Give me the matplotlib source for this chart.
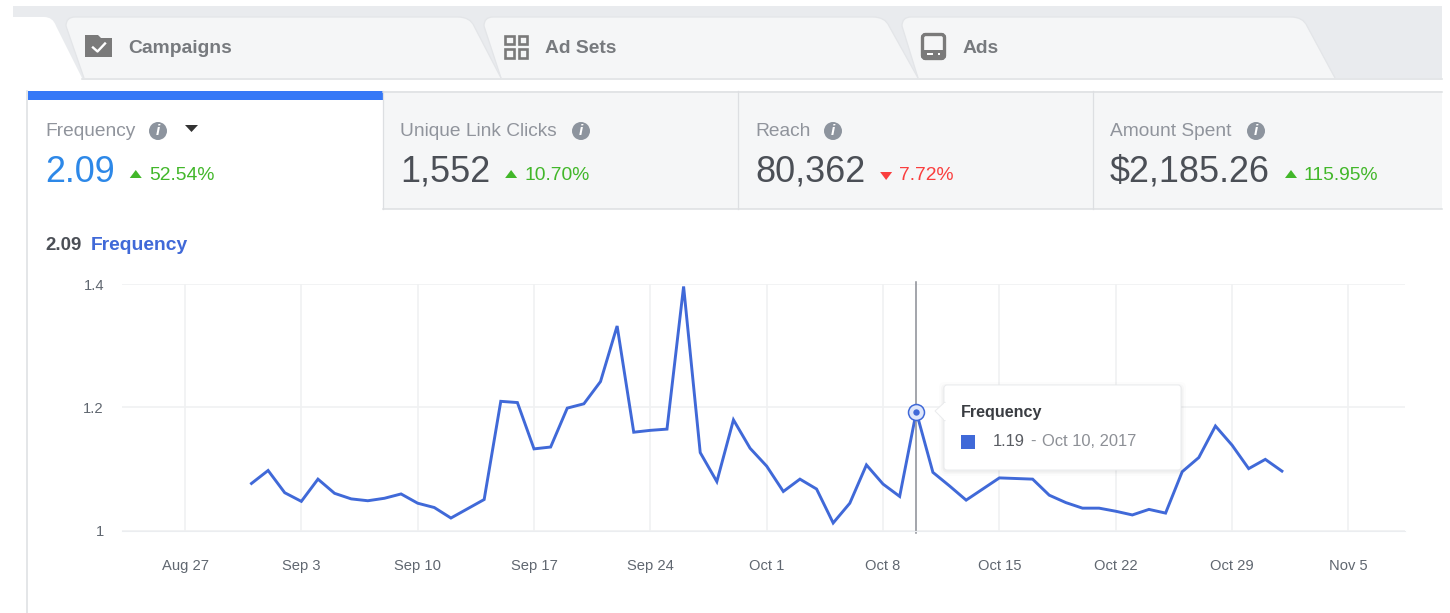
# -*- coding: utf-8 -*-
import matplotlib
matplotlib.use('Agg')
import matplotlib.pyplot as plt
import matplotlib.dates as mdates
import pandas as pd
from matplotlib.patches import FancyBboxPatch, PathPatch, Polygon, Rectangle, Circle
from matplotlib.path import Path

plt.rcParams['font.family'] = ['Liberation Sans', 'DejaVu Sans']

W, H = 1450, 613
PAGE_R = 1442

# chart data
start_date = '2017-08-31'
frequency = [1.077, 1.098, 1.062, 1.048, 1.084, 1.061, 1.052, 1.049, 1.053, 1.060,
             1.045, 1.038, 1.021, 1.036, 1.051, 1.210, 1.208, 1.133, 1.136, 1.199,
             1.206, 1.242, 1.332, 1.160, 1.163, 1.165, 1.396, 1.127, 1.080, 1.180,
             1.134, 1.105, 1.064, 1.084, 1.068, 1.013, 1.045, 1.107, 1.076, 1.056,
             1.193, 1.095, 1.073, 1.050, 1.068, 1.086, 1.085, 1.084, 1.058, 1.046,
             1.037, 1.037, 1.032, 1.026, 1.035, 1.029, 1.096, 1.119, 1.170, 1.139,
             1.101, 1.116, 1.097]
x_ticks = ['2017-08-27', '2017-09-03', '2017-09-10', '2017-09-17', '2017-09-24', '2017-10-01',
           '2017-10-08', '2017-10-15', '2017-10-22', '2017-10-29', '2017-11-05']
x_labels = ['Aug 27', 'Sep 3', 'Sep 10', 'Sep 17', 'Sep 24', 'Oct 1',
            'Oct 8', 'Oct 15', 'Oct 22', 'Oct 29', 'Nov 5']
y_ticks = [1, 1.2, 1.4]
y_labels = ['1', '1.2', '1.4']
hover_date = '2017-10-10'
hover_value = 1.193

# metric cards
metric_names = ['Frequency', 'Unique Link Clicks', 'Reach', 'Amount Spent']
metric_values = ['2.09', '1,552', '80,362', '$2,185.26']
metric_changes = ['52.54%', '10.70%', '7.72%', '115.95%']
metric_up = [True, True, False, True]

tab_names = ['Campaigns', 'Ad Sets', 'Ads']

BLUE = '#4069d8'
GREEN = '#42b72a'
RED = '#fa3e3e'
BORDER = '#dddfe2'
PANEL = '#f5f6f7'
GREY_ICON = '#7a7a7a'
LABEL = '#90949c'
DARK = '#4b4f56'


def px_axes(zorder):
    # overlay axes working in screen pixels, y going down
    a = fig.add_axes([0, 0, 1, 1], zorder=zorder)
    a.set_xlim(0, W)
    a.set_ylim(H, 0)
    a.axis('off')
    a.patch.set_alpha(0)
    return a


def tab(a, x0, x1, top_x1, fc, left_x):
    # browser style tab, rounded on top and slanted on the right
    verts = [(x0, 78), (left_x, 26), (left_x, 17), (left_x + 9, 17), (top_x1 - 12, 17),
             (top_x1, 17), (top_x1 + 4, 26), (x1, 78)]
    codes = [Path.MOVETO, Path.LINETO, Path.CURVE3, Path.CURVE3, Path.LINETO,
             Path.CURVE3, Path.CURVE3, Path.LINETO]
    a.add_patch(PathPatch(Path(verts, codes), fc=fc, ec='#e3e5e8', lw=0.9))


fig = plt.figure(figsize=(W / 100, H / 100), dpi=100, facecolor='white')
ui = px_axes(0)

# tab strip
ui.add_patch(Rectangle((13, 6), PAGE_R - 13, 72, fc='#e9ebee', ec='none'))
white_tab = Path([(13, 17), (44, 17), (53, 17), (56, 26), (82, 78), (13, 78), (13, 17)],
                 [Path.MOVETO, Path.LINETO, Path.CURVE3, Path.CURVE3, Path.LINETO,
                  Path.LINETO, Path.CLOSEPOLY])
ui.add_patch(PathPatch(white_tab, fc='white', ec='none'))
ui.add_patch(Rectangle((0, 17), 13, 62, fc='white', ec='none'))
tab(ui, 918, 1335, 1303, PANEL, 902)
tab(ui, 501, 918, 885, PANEL, 484)
tab(ui, 84, 501, 470, PANEL, 66)
ui.plot([82, PAGE_R], [78.5, 78.5], color=BORDER, lw=1.1)

for name, tx in zip(tab_names, [128, 545, 963]):
    ui.text(tx, 48.5, name, fontsize=13.9, fontweight='bold', color='#777a7e', va='center')

# campaigns icon, a folder with a check
ui.add_patch(Polygon([(85, 35), (98, 35), (101, 38), (112, 38), (112, 57), (85, 57)],
                     fc=GREY_ICON, ec='none'))
ui.plot([93, 97.5, 105], [47.5, 51.5, 43.5], color='white', lw=1.7)
# ad sets icon
for ix in [505.5, 519]:
    for iy in [35.5, 49]:
        ui.add_patch(Rectangle((ix, iy), 8.5, 8.5, fc='none', ec=GREY_ICON, lw=1.9))
# ads icon, a tablet
ui.add_patch(FancyBboxPatch((924, 36), 19, 21, boxstyle='round,pad=1.5,rounding_size=3',
                            fc='none', ec=GREY_ICON, lw=2.4))
ui.add_patch(Rectangle((924, 50), 19, 8, fc=GREY_ICON, ec='none'))
ui.add_patch(Rectangle((927, 53), 6, 2, fc='white', ec='none'))
ui.add_patch(Rectangle((938, 53), 2.5, 2, fc='white', ec='none'))

# metric cards
ui.add_patch(Rectangle((383, 91), PAGE_R - 383, 118, fc=PANEL, ec='none'))
ui.plot([383, PAGE_R], [91.5, 91.5], color=BORDER, lw=1.1)
ui.plot([383, PAGE_R], [208.5, 208.5], color=BORDER, lw=1.1)
for sx in [383, 738, 1093]:
    ui.plot([sx, sx], [91, 209], color=BORDER, lw=0.9)
ui.plot([27.5, 27.5], [91, H], color=BORDER, lw=1.1)
ui.add_patch(Rectangle((28, 91), 355, 9, fc='#3578f7', ec='none'))

card_x = [45, 400, 755, 1110]
info_x = [158, 581, 833, 1256]
for i, name in enumerate(metric_names):
    x = card_x[i]
    ui.text(x, 131, name, fontsize=13.8, color=LABEL, va='center')
    ui.add_patch(Circle((info_x[i], 131), 9, fc='#8d949e', ec='none'))
    ui.text(info_x[i], 131, 'i', fontsize=11, fontweight='bold', style='italic', color='white',
            ha='center', va='center')
    val = ui.text(x, 172.5, metric_values[i], fontsize=25.9, va='center',
                  color='#2d88e8' if i == 0 else DARK)
    fig.canvas.draw()
    right_edge = val.get_window_extent().x1
    ax0 = right_edge + 21
    if metric_up[i]:
        ui.add_patch(Polygon([(ax0 - 6, 178), (ax0 + 6, 178), (ax0, 170)], fc=GREEN, ec='none'))
    else:
        ui.add_patch(Polygon([(ax0 - 6, 172), (ax0 + 6, 172), (ax0, 180)], fc=RED, ec='none'))
    ui.text(ax0 + 13, 175.5, metric_changes[i], fontsize=13.9, va='center',
            color=GREEN if metric_up[i] else RED)
ui.add_patch(Polygon([(185, 125), (198, 125), (191.5, 132)], fc='#333333', ec='none'))

# chart heading
ui.text(45, 245, '2.09', fontsize=13.4, fontweight='bold', color=DARK, va='center')
ui.text(91, 245, 'Frequency', fontsize=13.9, fontweight='bold', color=BLUE, va='center')

# the chart itself, placed on the pixel grid of the reference
left, right, top, bottom = 122, 1405, 284, 531
ax = fig.add_axes([left / W, 1 - bottom / H, (right - left) / W, (bottom - top) / H], zorder=1)
ax.patch.set_alpha(0)
px_per_day = 16.62
first = mdates.date2num(pd.Timestamp(x_ticks[0]))
ax.set_xlim(first - (185 - left) / px_per_day, first + (right - 185) / px_per_day)
ax.set_ylim(1, 1.4)
dates = pd.date_range(start_date, periods=len(frequency), freq='D')
ax.set_xticks([mdates.date2num(pd.Timestamp(d)) for d in x_ticks])
ax.set_xticklabels(x_labels)
ax.set_yticks(y_ticks)
ax.set_yticklabels(y_labels)
ax.grid(True, color='#f0f1f2', lw=1.2)
ax.set_axisbelow(True)
for s in ax.spines.values():
    s.set_visible(False)
ax.spines['bottom'].set_visible(True)
ax.spines['bottom'].set_color('#ebedf0')
ax.tick_params(axis='x', length=0, pad=20, labelsize=10.6, labelcolor='#606770')
ax.tick_params(axis='y', length=0, pad=13, labelsize=10.6, labelcolor='#606770')
ax.plot(mdates.date2num(dates), frequency, color=BLUE, lw=2.1, solid_joinstyle='miter',
        clip_on=False)

hx = mdates.date2num(pd.Timestamp(hover_date))
ax.plot([hx, hx], [0.997, 1.403], color='#8a8d94', lw=1.1, clip_on=False)
ax.plot([hx], [hover_value], marker='o', ms=11.5, mfc='#dfe7fb', mec=BLUE, mew=1.1, clip_on=False)
ax.plot([hx], [hover_value], marker='o', ms=4.6, mfc=BLUE, mec=BLUE, mew=0, clip_on=False)

# tooltip
tip = px_axes(2)
for grow, alpha in [(5, 0.012), (3, 0.02), (1.5, 0.03)]:
    tip.add_patch(FancyBboxPatch((944 - grow, 387 - grow), 237 + 2 * grow, 84 + 2 * grow,
                                 boxstyle='round,pad=0,rounding_size=5', fc='black', ec='none',
                                 alpha=alpha))
tip.add_patch(FancyBboxPatch((944, 385), 237, 85, boxstyle='round,pad=0,rounding_size=3',
                             fc='white', ec='#eaebed', lw=0.7))
tip.add_patch(Polygon([(945, 402), (935, 411), (945, 421)], fc='white', ec='#eaebed', lw=0.7))
tip.add_patch(Rectangle((944.5, 403), 2, 17, fc='white', ec='none'))
tip.text(961, 412, 'Frequency', fontsize=11.6, fontweight='bold', color='#3a3d42', va='center')
tip.add_patch(Rectangle((961, 435), 14, 14, fc=BLUE, ec='none'))
tip.text(993, 441, '1.19', fontsize=11.9, color='#5a5d63', va='center')
tip.text(1030, 441, '-', fontsize=11.9, color='#8d9096', va='center')
tip.text(1042, 441, 'Oct 10, 2017', fontsize=11.9, color='#8d9096', va='center')

fig.savefig('out.png', dpi=100)
